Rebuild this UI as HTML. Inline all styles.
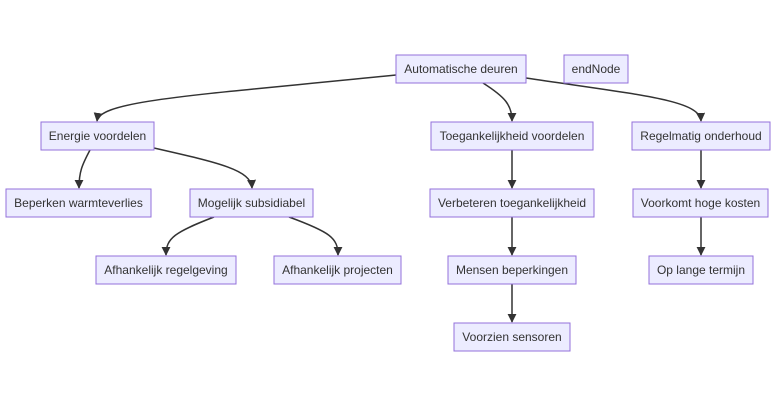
<!DOCTYPE html>
<html><head><meta charset="utf-8"><style>
body{margin:0;background:#fff;width:784px;height:406px;overflow:hidden}
svg text{font-family:"Liberation Sans",sans-serif;font-size:12px;fill:#333;text-anchor:middle;dominant-baseline:central}
rect{fill:#ECECFF;stroke:#9370DB;stroke-width:1}
path{fill:none;stroke:#333;stroke-width:1.5}
</style></head><body>
<svg width="784" height="406" viewBox="0 0 784 406">
<defs><marker id="a" viewBox="0 0 10 10" refX="9" refY="5" markerWidth="6" markerHeight="6" orient="auto"><path d="M0,0L10,5L0,10z" style="fill:#333;stroke:none"/></marker></defs>
<path d="M396,75 C200,95 100,100 97,121" marker-end="url(#a)"/>
<path d="M483,83 C505,97 512,105 512,121" marker-end="url(#a)"/>
<path d="M526,78 C640,95 700,100 701,121" marker-end="url(#a)"/>
<path d="M90,150 C82,165 79,172 79,188" marker-end="url(#a)"/>
<path d="M154,148 C220,163 251,170 252,188" marker-end="url(#a)"/>
<path d="M512,150 L512,188" marker-end="url(#a)"/>
<path d="M701,150 L701,188" marker-end="url(#a)"/>
<path d="M214,217 C175,232 166,238 166,255" marker-end="url(#a)"/>
<path d="M289,217 C330,232 338,238 338,255" marker-end="url(#a)"/>
<path d="M512,217 L512,255" marker-end="url(#a)"/>
<path d="M701,217 L701,255" marker-end="url(#a)"/>
<path d="M512,284 L512,322" marker-end="url(#a)"/>
<rect x="396" y="55" width="130" height="28"/><text x="461" y="69">Automatische deuren</text>
<rect x="564" y="55" width="64" height="28"/><text x="596" y="69">endNode</text>
<rect x="41" y="122" width="113" height="28"/><text x="97.5" y="136">Energie voordelen</text>
<rect x="431" y="122" width="162" height="28"/><text x="512" y="136">Toegankelijkheid voordelen</text>
<rect x="632" y="122" width="138" height="28"/><text x="701" y="136">Regelmatig onderhoud</text>
<rect x="6" y="189" width="145" height="28"/><text x="78.5" y="203">Beperken warmteverlies</text>
<rect x="190" y="189" width="123" height="28"/><text x="251.5" y="203">Mogelijk subsidiabel</text>
<rect x="430" y="189" width="164" height="28"/><text x="512" y="203">Verbeteren toegankelijkheid</text>
<rect x="633" y="189" width="135" height="28"/><text x="700.5" y="203">Voorkomt hoge kosten</text>
<rect x="96" y="256" width="140" height="28"/><text x="166" y="270">Afhankelijk regelgeving</text>
<rect x="274" y="256" width="127" height="28"/><text x="337.5" y="270">Afhankelijk projecten</text>
<rect x="448" y="256" width="128" height="28"/><text x="512" y="270">Mensen beperkingen</text>
<rect x="649" y="256" width="104" height="28"/><text x="701" y="270">Op lange termijn</text>
<rect x="454" y="323" width="116" height="28"/><text x="512" y="337">Voorzien sensoren</text>
</svg>
</body></html>
